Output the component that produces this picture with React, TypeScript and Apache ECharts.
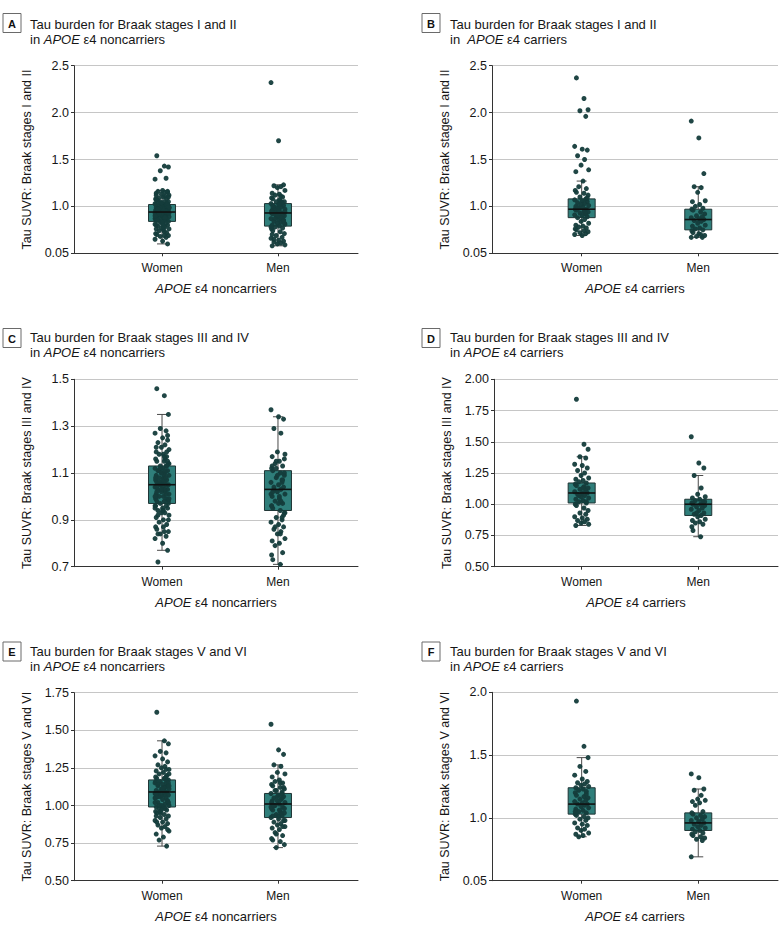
import React, { useEffect, useRef } from "react";
import * as echarts from "echarts";

// ---------- DATA ----------
const categories = ["Women", "Men"];

// y-axis tick values and labels per panel
const yTicksA = [0.5, 1.0, 1.5, 2.0, 2.5];
const yLabelsA = ["0.05", "1.0", "1.5", "2.0", "2.5"];
const yTicksB = [0.5, 1.0, 1.5, 2.0, 2.5];
const yLabelsB = ["0.05", "1.0", "1.5", "2.0", "2.5"];
const yTicksC = [0.7, 0.9, 1.1, 1.3, 1.5];
const yLabelsC = ["0.7", "0.9", "1.1", "1.3", "1.5"];
const yTicksD = [0.5, 0.75, 1.0, 1.25, 1.5, 1.75, 2.0];
const yLabelsD = ["0.50", "0.75", "1.00", "1.25", "1.50", "1.75", "2.00"];
const yTicksE = [0.5, 0.75, 1.0, 1.25, 1.5, 1.75];
const yLabelsE = ["0.50", "0.75", "1.00", "1.25", "1.50", "1.75"];
const yTicksF = [0.5, 1.0, 1.5, 2.0];
const yLabelsF = ["0.05", "1.0", "1.5", "2.0"];

// box statistics: [lower whisker, Q1, median, Q3, upper whisker]
const boxA_women = [0.60, 0.84, 0.94, 1.02, 1.17];
const boxA_men = [0.58, 0.79, 0.93, 1.03, 1.23];
const boxB_women = [0.69, 0.88, 0.97, 1.08, 1.27];
const boxB_men = [0.67, 0.75, 0.86, 0.97, 1.21];
const boxC_women = [0.77, 0.97, 1.05, 1.13, 1.35];
const boxC_men = [0.71, 0.94, 1.03, 1.11, 1.34];
const boxD_women = [0.83, 1.01, 1.09, 1.17, 1.38];
const boxD_men = [0.74, 0.91, 1.0, 1.04, 1.23];
const boxE_women = [0.73, 0.99, 1.09, 1.17, 1.43];
const boxE_men = [0.72, 0.92, 1.01, 1.08, 1.27];
const boxF_women = [0.85, 1.03, 1.11, 1.24, 1.48];
const boxF_men = [0.69, 0.90, 0.96, 1.04, 1.23];

// individual SUVR points
const ptsA_women = [1.54, 1.43, 1.42, 1.38, 1.30, 1.29, 1.17, 1.16, 1.16, 1.15, 1.13, 1.12, 1.12, 1.10, 1.09, 1.08, 1.08, 1.07, 1.05, 1.05, 1.04, 1.03, 1.03, 1.02, 1.02, 1.01, 1.00, 1.00, 0.99, 0.99, 0.98, 0.97, 0.97, 0.96, 0.96, 0.95, 0.95, 0.94, 0.94, 0.93, 0.93, 0.92, 0.91, 0.91, 0.90, 0.89, 0.89, 0.88, 0.87, 0.87, 0.86, 0.85, 0.85, 0.84, 0.83, 0.82, 0.81, 0.81, 0.80, 0.79, 0.78, 0.77, 0.76, 0.76, 0.75, 0.74, 0.72, 0.71, 0.70, 0.69, 0.69, 0.68, 0.67, 0.65, 0.63, 0.60, 1.06, 1.11, 0.92, 0.98, 1.14, 0.88, 0.94, 1.01, 0.90, 0.86, 0.97, 1.00, 0.93, 0.95, 0.87, 0.91, 1.03, 0.96, 0.89, 0.84, 0.99, 1.07, 0.78, 0.92, 0.95, 1.02, 0.86, 0.73, 1.10, 0.98, 0.94, 0.90, 0.83, 1.15, 0.97, 0.88, 1.04, 0.93, 0.80, 0.96];
const ptsA_men = [2.32, 1.70, 1.23, 1.22, 1.21, 1.20, 1.17, 1.14, 1.13, 1.12, 1.10, 1.09, 1.08, 1.06, 1.05, 1.05, 1.04, 1.03, 1.02, 1.01, 1.00, 0.99, 0.98, 0.97, 0.96, 0.95, 0.94, 0.93, 0.93, 0.92, 0.91, 0.90, 0.89, 0.88, 0.87, 0.86, 0.85, 0.84, 0.83, 0.82, 0.81, 0.80, 0.79, 0.78, 0.77, 0.76, 0.74, 0.73, 0.71, 0.69, 0.67, 0.66, 0.64, 0.63, 0.62, 0.61, 0.60, 0.59, 0.58, 1.07, 0.96, 0.91, 0.95, 1.00, 0.88, 0.82, 0.92, 1.04, 0.78, 0.97, 0.85, 0.65, 1.11, 0.90, 0.94, 0.70, 1.02, 0.87];
const ptsB_women = [2.37, 2.15, 2.03, 2.02, 1.96, 1.64, 1.61, 1.60, 1.54, 1.50, 1.44, 1.39, 1.37, 1.27, 1.21, 1.19, 1.17, 1.15, 1.14, 1.12, 1.10, 1.08, 1.07, 1.06, 1.05, 1.04, 1.03, 1.02, 1.01, 1.00, 0.99, 0.98, 0.97, 0.97, 0.96, 0.95, 0.94, 0.93, 0.92, 0.91, 0.90, 0.89, 0.88, 0.86, 0.84, 0.82, 0.80, 0.79, 0.78, 0.77, 0.76, 0.75, 0.74, 0.73, 0.72, 0.71, 0.70, 0.69, 1.09, 0.99, 0.93];
const ptsB_men = [1.91, 1.73, 1.35, 1.21, 1.20, 1.15, 1.06, 1.05, 1.02, 1.00, 0.98, 0.97, 0.96, 0.94, 0.92, 0.90, 0.89, 0.88, 0.87, 0.86, 0.85, 0.84, 0.82, 0.80, 0.79, 0.77, 0.76, 0.75, 0.74, 0.72, 0.70, 0.69, 0.68, 0.67, 0.67, 0.71];
const ptsC_women = [1.46, 1.43, 1.35, 1.29, 1.28, 1.27, 1.25, 1.24, 1.23, 1.22, 1.21, 1.20, 1.19, 1.18, 1.18, 1.17, 1.16, 1.15, 1.15, 1.14, 1.13, 1.13, 1.12, 1.12, 1.11, 1.11, 1.10, 1.10, 1.09, 1.09, 1.08, 1.08, 1.07, 1.07, 1.06, 1.06, 1.05, 1.05, 1.05, 1.04, 1.04, 1.03, 1.03, 1.02, 1.02, 1.01, 1.01, 1.00, 1.00, 0.99, 0.99, 0.98, 0.98, 0.97, 0.97, 0.96, 0.96, 0.95, 0.95, 0.94, 0.93, 0.93, 0.92, 0.91, 0.90, 0.89, 0.88, 0.87, 0.86, 0.85, 0.85, 0.84, 0.83, 0.82, 0.80, 0.77, 0.72, 1.16, 1.06, 1.14, 1.00, 0.94, 1.11, 1.19, 1.08, 1.04, 1.09, 0.98, 1.12, 1.01, 0.95, 1.07, 1.15, 0.92, 1.03, 1.10, 0.99, 1.21, 0.87, 1.06, 1.13, 0.96, 1.02, 1.17, 0.90, 1.05, 1.08, 1.00, 0.94, 1.26, 0.84, 1.11, 1.03];
const ptsC_men = [1.37, 1.34, 1.33, 1.29, 1.27, 1.19, 1.18, 1.17, 1.15, 1.14, 1.13, 1.12, 1.11, 1.10, 1.09, 1.08, 1.07, 1.06, 1.05, 1.04, 1.03, 1.03, 1.02, 1.01, 1.00, 0.99, 0.98, 0.97, 0.96, 0.95, 0.94, 0.93, 0.91, 0.90, 0.89, 0.88, 0.87, 0.86, 0.85, 0.84, 0.82, 0.81, 0.80, 0.79, 0.76, 0.75, 0.73, 0.71, 1.16, 1.12, 1.06, 1.01, 0.97, 0.92, 1.04, 0.98, 1.09, 0.93, 1.13, 1.00, 0.87, 1.07, 0.96, 1.02, 0.84, 1.10, 1.15, 0.91];
const ptsD_women = [1.84, 1.48, 1.44, 1.38, 1.37, 1.32, 1.31, 1.29, 1.27, 1.25, 1.23, 1.21, 1.20, 1.19, 1.18, 1.17, 1.16, 1.15, 1.14, 1.13, 1.12, 1.11, 1.10, 1.09, 1.09, 1.08, 1.07, 1.06, 1.05, 1.04, 1.03, 1.02, 1.01, 1.00, 0.99, 0.97, 0.95, 0.93, 0.92, 0.90, 0.89, 0.88, 0.87, 0.86, 0.85, 0.84, 0.83, 1.13, 1.07, 1.02];
const ptsD_men = [1.54, 1.33, 1.29, 1.23, 1.13, 1.08, 1.06, 1.05, 1.04, 1.03, 1.02, 1.01, 1.00, 1.00, 0.99, 0.98, 0.97, 0.96, 0.95, 0.93, 0.92, 0.91, 0.90, 0.88, 0.87, 0.86, 0.85, 0.84, 0.82, 0.79, 0.74, 1.02, 0.93];
const ptsE_women = [1.62, 1.43, 1.41, 1.36, 1.35, 1.33, 1.31, 1.29, 1.27, 1.26, 1.25, 1.24, 1.23, 1.22, 1.21, 1.20, 1.19, 1.18, 1.18, 1.17, 1.16, 1.15, 1.15, 1.14, 1.13, 1.13, 1.12, 1.11, 1.11, 1.10, 1.10, 1.09, 1.09, 1.08, 1.08, 1.07, 1.07, 1.06, 1.05, 1.05, 1.04, 1.03, 1.02, 1.01, 1.00, 1.00, 0.99, 0.99, 0.98, 0.97, 0.96, 0.95, 0.94, 0.93, 0.92, 0.91, 0.90, 0.89, 0.88, 0.87, 0.86, 0.85, 0.83, 0.81, 0.79, 0.77, 0.73, 1.16, 1.06, 1.12, 1.02, 0.95, 1.19, 1.08, 1.10, 1.03, 1.14, 0.98, 1.07, 1.21, 0.93, 1.12, 1.00, 1.17, 1.05, 0.89, 1.09, 1.15, 0.96, 1.24, 1.02, 1.11, 0.84, 1.06, 1.18, 0.97, 1.13, 1.08];
const ptsE_men = [1.54, 1.37, 1.34, 1.27, 1.26, 1.22, 1.21, 1.19, 1.17, 1.16, 1.15, 1.14, 1.13, 1.12, 1.11, 1.10, 1.09, 1.08, 1.07, 1.06, 1.05, 1.04, 1.03, 1.02, 1.01, 1.01, 1.00, 0.99, 0.98, 0.97, 0.96, 0.95, 0.94, 0.93, 0.92, 0.91, 0.90, 0.89, 0.88, 0.87, 0.86, 0.85, 0.84, 0.82, 0.80, 0.78, 0.77, 0.76, 0.74, 0.72, 1.05, 0.99, 0.93, 1.12, 1.00, 0.95, 1.06, 0.90, 1.03, 0.97, 1.10, 0.86, 1.02, 0.93, 1.15, 0.98, 0.81, 1.08];
const ptsF_women = [1.93, 1.57, 1.48, 1.41, 1.37, 1.34, 1.31, 1.29, 1.28, 1.27, 1.26, 1.25, 1.24, 1.23, 1.22, 1.21, 1.20, 1.18, 1.17, 1.16, 1.15, 1.14, 1.13, 1.12, 1.11, 1.11, 1.10, 1.09, 1.08, 1.07, 1.06, 1.05, 1.04, 1.03, 1.02, 1.01, 1.00, 0.99, 0.98, 0.96, 0.95, 0.94, 0.92, 0.91, 0.90, 0.88, 0.87, 0.86, 0.85, 1.19, 1.05];
const ptsF_men = [1.35, 1.32, 1.23, 1.22, 1.18, 1.15, 1.14, 1.13, 1.12, 1.10, 1.05, 1.04, 1.03, 1.02, 1.01, 1.00, 0.99, 0.98, 0.97, 0.96, 0.95, 0.94, 0.93, 0.92, 0.91, 0.90, 0.89, 0.88, 0.87, 0.86, 0.85, 0.84, 0.83, 0.82, 0.69, 0.97];

// ---------- LAYOUT / STYLE ----------
const FONT = "'Liberation Sans', Arial, sans-serif";
const TXT = "#161616";
const JITTER = [-0.045, 0.02, 0.055, -0.015, 0.035, -0.06, 0.005, 0.048, -0.035, 0.025, -0.005, 0.06, -0.05, 0.012, -0.025, 0.04, -0.055];

const NONCAR = "{i|APOE} ε4 noncarriers";
const CAR = "{i|APOE} ε4 carriers";

const panels = [
  { letter: "A", title: "Tau burden for Braak stages I and II\nin {i|APOE} ε4 noncarriers", yName: "Tau SUVR: Braak stages I and II", xName: NONCAR,
    ticks: yTicksA, labels: yLabelsA, women: ptsA_women, men: ptsA_men, bw: boxA_women, bm: boxA_men,
    grid: { left: 74, top: 65.7, width: 284, height: 187.6 }, xMin: 0.241, xMax: 2.69, boxX: 3, boxY: 13.5, titleX: 30, titleY: 16.5 },
  { letter: "B", title: "Tau burden for Braak stages I and II\nin  {i|APOE} ε4 carriers", yName: "Tau SUVR: Braak stages I and II", xName: CAR,
    ticks: yTicksB, labels: yLabelsB, women: ptsB_women, men: ptsB_men, bw: boxB_women, bm: boxB_men,
    grid: { left: 492, top: 65.7, width: 286, height: 187.6 }, xMin: 0.231, xMax: 2.684, boxX: 422, boxY: 13.5, titleX: 450, titleY: 16.5 },
  { letter: "C", title: "Tau burden for Braak stages III and IV\nin {i|APOE} ε4 noncarriers", yName: "Tau SUVR: Braak stages III and IV", xName: NONCAR,
    ticks: yTicksC, labels: yLabelsC, women: ptsC_women, men: ptsC_men, bw: boxC_women, bm: boxC_men,
    grid: { left: 74, top: 379.3, width: 284, height: 187.4 }, xMin: 0.241, xMax: 2.69, boxX: 3, boxY: 328.5, titleX: 30, titleY: 330 },
  { letter: "D", title: "Tau burden for Braak stages III and IV\nin {i|APOE} ε4 carriers", yName: "Tau SUVR: Braak stages III and IV", xName: CAR,
    ticks: yTicksD, labels: yLabelsD, women: ptsD_women, men: ptsD_men, bw: boxD_women, bm: boxD_men,
    grid: { left: 494, top: 379.3, width: 284, height: 187.4 }, xMin: 0.248, xMax: 2.684, boxX: 422, boxY: 328.5, titleX: 450, titleY: 330 },
  { letter: "E", title: "Tau burden for Braak stages V and VI\nin {i|APOE} ε4 noncarriers", yName: "Tau SUVR: Braak stages V and VI", xName: NONCAR,
    ticks: yTicksE, labels: yLabelsE, women: ptsE_women, men: ptsE_men, bw: boxE_women, bm: boxE_men,
    grid: { left: 74, top: 692.7, width: 284, height: 188 }, xMin: 0.241, xMax: 2.69, boxX: 3, boxY: 642, titleX: 30, titleY: 643.5 },
  { letter: "F", title: "Tau burden for Braak stages V and VI\nin {i|APOE} ε4 carriers", yName: "Tau SUVR: Braak stages V and VI", xName: CAR,
    ticks: yTicksF, labels: yLabelsF, women: ptsF_women, men: ptsF_men, bw: boxF_women, bm: boxF_men,
    grid: { left: 492, top: 692.3, width: 286, height: 188.4 }, xMin: 0.231, xMax: 2.684, boxX: 422, boxY: 642, titleX: 450, titleY: 643.5 },
];

const BOX_FILL = "#2f7e7a";
const BOX_STROKE = "#1f3434";
const POINT = "#143c3b";

function buildOption() {
  const grid: any[] = [];
  const xAxis: any[] = [];
  const yAxis: any[] = [];
  const series: any[] = [];
  const title: any[] = [];
  const graphic: any[] = [];

  panels.forEach((p, k) => {
    grid.push({ ...p.grid });
    xAxis.push({
      gridIndex: k,
      type: "value",
      min: p.xMin,
      max: p.xMax,
      name: p.xName,
      nameLocation: "middle",
      nameGap: 29,
      nameTextStyle: { fontSize: 13, color: TXT, fontFamily: FONT, rich: { i: { fontStyle: "italic", fontSize: 13, color: TXT, fontFamily: FONT } } },
      axisLine: { show: true, onZero: false, lineStyle: { color: "#333", width: 1 } },
      axisTick: { show: true, customValues: [1, 2], length: 3, lineStyle: { color: "#333" } },
      axisLabel: {
        customValues: [1, 2],
        formatter: (v: number) => categories[Math.round(v) - 1] ?? "",
        fontSize: 12, color: TXT, fontFamily: FONT, margin: 9,
      },
      splitLine: { show: false },
    });
    const ticks = p.ticks;
    const labels = p.labels;
    yAxis.push({
      gridIndex: k,
      type: "value",
      min: ticks[0],
      max: ticks[ticks.length - 1],
      name: p.yName,
      nameLocation: "middle",
      nameGap: 41,
      nameTextStyle: { fontSize: 12.5, color: TXT, fontFamily: FONT },
      axisLine: { show: true, lineStyle: { color: "#333", width: 1 } },
      axisTick: { show: true, customValues: ticks, length: 3, lineStyle: { color: "#333" } },
      axisLabel: {
        customValues: ticks,
        formatter: (v: number) => {
          const i = ticks.findIndex((t) => Math.abs(t - v) < 1e-6);
          return i >= 0 ? labels[i] : "";
        },
        fontSize: 12.5, color: TXT, fontFamily: FONT, margin: 5,
      },
      splitLine: { show: true, lineStyle: { color: "#c6c6c6", width: 1 } },
    });

    const boxData = [[1, ...p.bw], [2, ...p.bm]];
    series.push({
      type: "custom",
      xAxisIndex: k,
      yAxisIndex: k,
      z: 2,
      data: boxData,
      encode: { x: 0, y: [1, 2, 3, 4, 5] },
      renderItem: (params: any, api: any) => {
        const x = api.value(0);
        const lo = api.coord([x, api.value(1)]);
        const q1 = api.coord([x, api.value(2)]);
        const q3 = api.coord([x, api.value(4)]);
        const hi = api.coord([x, api.value(5)]);
        const cx = lo[0];
        const w = 27;
        const cw = 10;
        const ls = { stroke: "#4a4a4a", lineWidth: 1 };
        return {
          type: "group",
          children: [
            { type: "line", shape: { x1: cx, y1: hi[1], x2: cx, y2: q3[1] }, style: ls },
            { type: "line", shape: { x1: cx, y1: q1[1], x2: cx, y2: lo[1] }, style: ls },
            { type: "line", shape: { x1: cx - cw / 2, y1: hi[1], x2: cx + cw / 2, y2: hi[1] }, style: ls },
            { type: "line", shape: { x1: cx - cw / 2, y1: lo[1], x2: cx + cw / 2, y2: lo[1] }, style: ls },
            { type: "rect", shape: { x: cx - w / 2, y: q3[1], width: w, height: q1[1] - q3[1] }, style: { fill: BOX_FILL, stroke: BOX_STROKE, lineWidth: 1 } },
          ],
        };
      },
    });

    const pts: number[][] = [];
    p.women.forEach((v, i) => pts.push([1 + JITTER[i % JITTER.length], v]));
    p.men.forEach((v, i) => pts.push([2 + JITTER[(i + 5) % JITTER.length], v]));
    series.push({
      type: "scatter",
      xAxisIndex: k,
      yAxisIndex: k,
      z: 3,
      symbolSize: 5,
      itemStyle: { color: POINT, opacity: 0.95 },
      data: pts,
    });

    series.push({
      type: "custom",
      xAxisIndex: k,
      yAxisIndex: k,
      z: 4,
      data: boxData,
      encode: { x: 0, y: [1, 2, 3, 4, 5] },
      renderItem: (params: any, api: any) => {
        const x = api.value(0);
        const m = api.coord([x, api.value(3)]);
        const w = 27;
        return { type: "line", shape: { x1: m[0] - w / 2, y1: m[1], x2: m[0] + w / 2, y2: m[1] }, style: { stroke: "#111", lineWidth: 1.6 } };
      },
    });

    title.push({
      text: p.title,
      left: p.titleX,
      top: p.titleY,
      padding: 0,
      textStyle: {
        fontSize: 13, fontWeight: "normal", color: TXT, fontFamily: FONT, lineHeight: 15,
        rich: { i: { fontStyle: "italic", fontSize: 13, color: TXT, fontFamily: FONT, lineHeight: 15 } },
      },
    });

    graphic.push({
      type: "rect",
      x: p.boxX,
      y: p.boxY,
      shape: { x: 0, y: 0, width: 18, height: 19 },
      style: { fill: "#fff", stroke: "#6a6a6a", lineWidth: 1 },
    });
    graphic.push({
      type: "text",
      x: p.boxX + 9,
      y: p.boxY + 10,
      style: { text: p.letter, fill: "#111", fontSize: 11, fontWeight: "bold", fontFamily: FONT, align: "center", verticalAlign: "middle" },
    });
  });

  return { animation: false, backgroundColor: "#ffffff", grid, xAxis, yAxis, series, title, graphic };
}

export default function App() {
  const ref = useRef<HTMLDivElement>(null);
  useEffect(() => {
    if (!ref.current) return;
    const chart = echarts.init(ref.current, undefined, { renderer: "svg" });
    chart.setOption(buildOption() as any);
    return () => chart.dispose();
  }, []);
  return <div ref={ref} style={{ position: "absolute", left: 0, top: 0, width: 780, height: 935, background: "#fff" }} />;
}
